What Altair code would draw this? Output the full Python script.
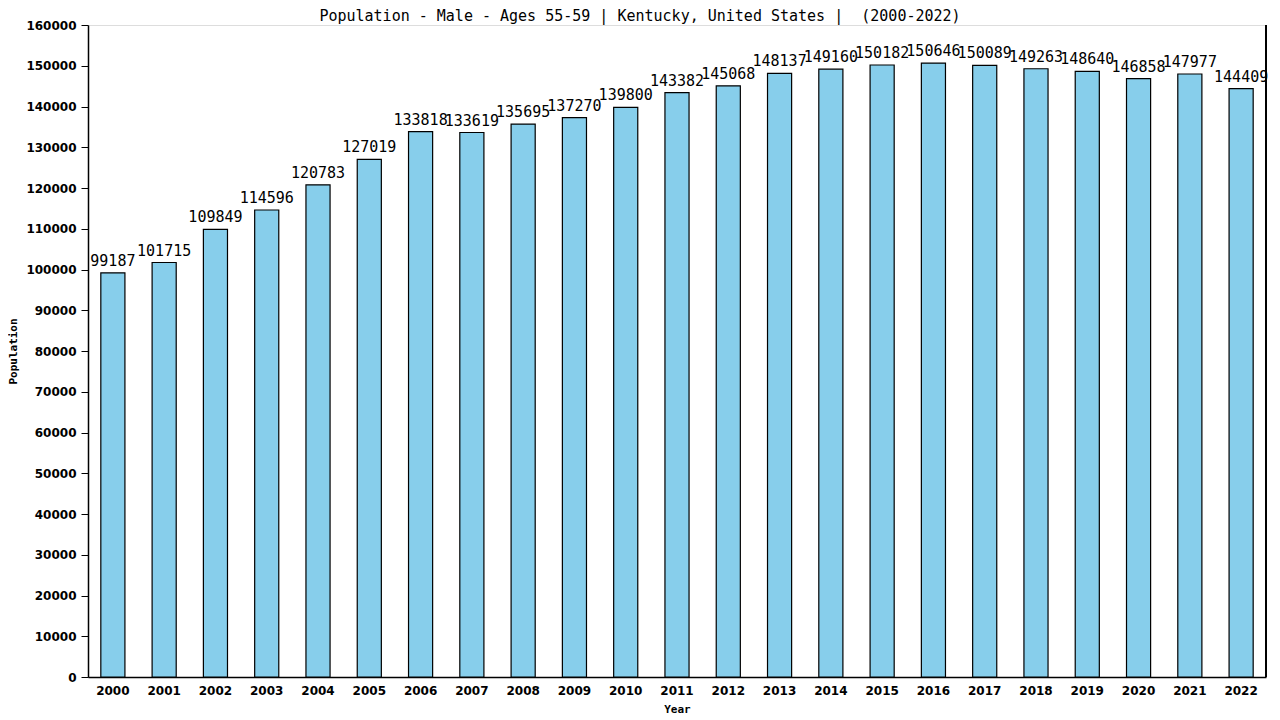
import altair as alt
import pandas as pd

years = [str(y) for y in range(2000, 2023)]
population = [99187, 101715, 109849, 114596, 120783, 127019, 133818, 133619,
              135695, 137270, 139800, 143382, 145068, 148137, 149160, 150182,
              150646, 150089, 149263, 148640, 146858, 147977, 144409]
y_ticks = list(range(0, 160001, 10000))

df = pd.DataFrame({"Year": years, "Population": population})

x_enc = alt.X("Year:N", sort=years,
              scale=alt.Scale(paddingInner=0.53, paddingOuter=0.25),
              axis=alt.Axis(title="Year", labelAngle=0, ticks=False,
                            labelPadding=8, titleY=32, titleBaseline="middle",
                            labelFont="DejaVu Sans", labelFontWeight="bold",
                            labelFontSize=12, labelColor="black",
                            titleFont="DejaVu Sans Mono", titleFontSize=11,
                            titleFontWeight="bold", titleColor="black",
                            domainColor="black", domainWidth=1.5))

y_scale = alt.Scale(domain=[0, 160000], nice=False)

bars = alt.Chart(df).mark_bar(color="#87CEEB", stroke="black", strokeWidth=1.2).encode(
    x=x_enc,
    y=alt.Y("Population:Q", scale=y_scale,
            axis=alt.Axis(title="Population", values=y_ticks, grid=False, format="d",
                          tickSize=7, tickColor="black", labelPadding=5,
                          titleX=-75, titleY=326, titleBaseline="middle",
                          titleAlign="center", titleAngle=270,
                          labelFont="DejaVu Sans", labelFontWeight="bold",
                          labelFontSize=12, labelColor="black",
                          titleFont="DejaVu Sans Mono", titleFontSize=11,
                          titleFontWeight="bold", titleColor="black",
                          domainColor="black", domainWidth=1.5)),
)

labels = alt.Chart(df).mark_text(baseline="bottom", dy=-4, font="DejaVu Sans Mono",
                                 fontSize=15, color="black").encode(
    x=alt.X("Year:N", sort=years),
    y=alt.Y("Population:Q", scale=y_scale),
    text=alt.Text("Population:Q", format="d"),
)

right_line = alt.Chart(df).mark_rule(color="black", strokeWidth=1.5).encode(
    x=alt.value(1178), y=alt.value(0), y2=alt.value(652)
)

chart = alt.layer(bars, labels, right_line).properties(
    width=1178, height=652,
    autosize=alt.AutoSizeParams(type="none"),
    padding={"left": 80, "top": 17, "right": 6, "bottom": 40},
    title=alt.TitleParams("Population - Male - Ages 55-59 | Kentucky, United States |\u00a0 (2000-2022)",
                          font="DejaVu Sans Mono", fontSize=15, fontWeight="normal",
                          color="black", anchor="middle", dx=-37, offset=-5),
).configure_view(stroke="white", fill="white").configure_axis(grid=False).configure(background="white")

chart.save("out.html", embed_options={"renderer": "svg", "actions": False})
